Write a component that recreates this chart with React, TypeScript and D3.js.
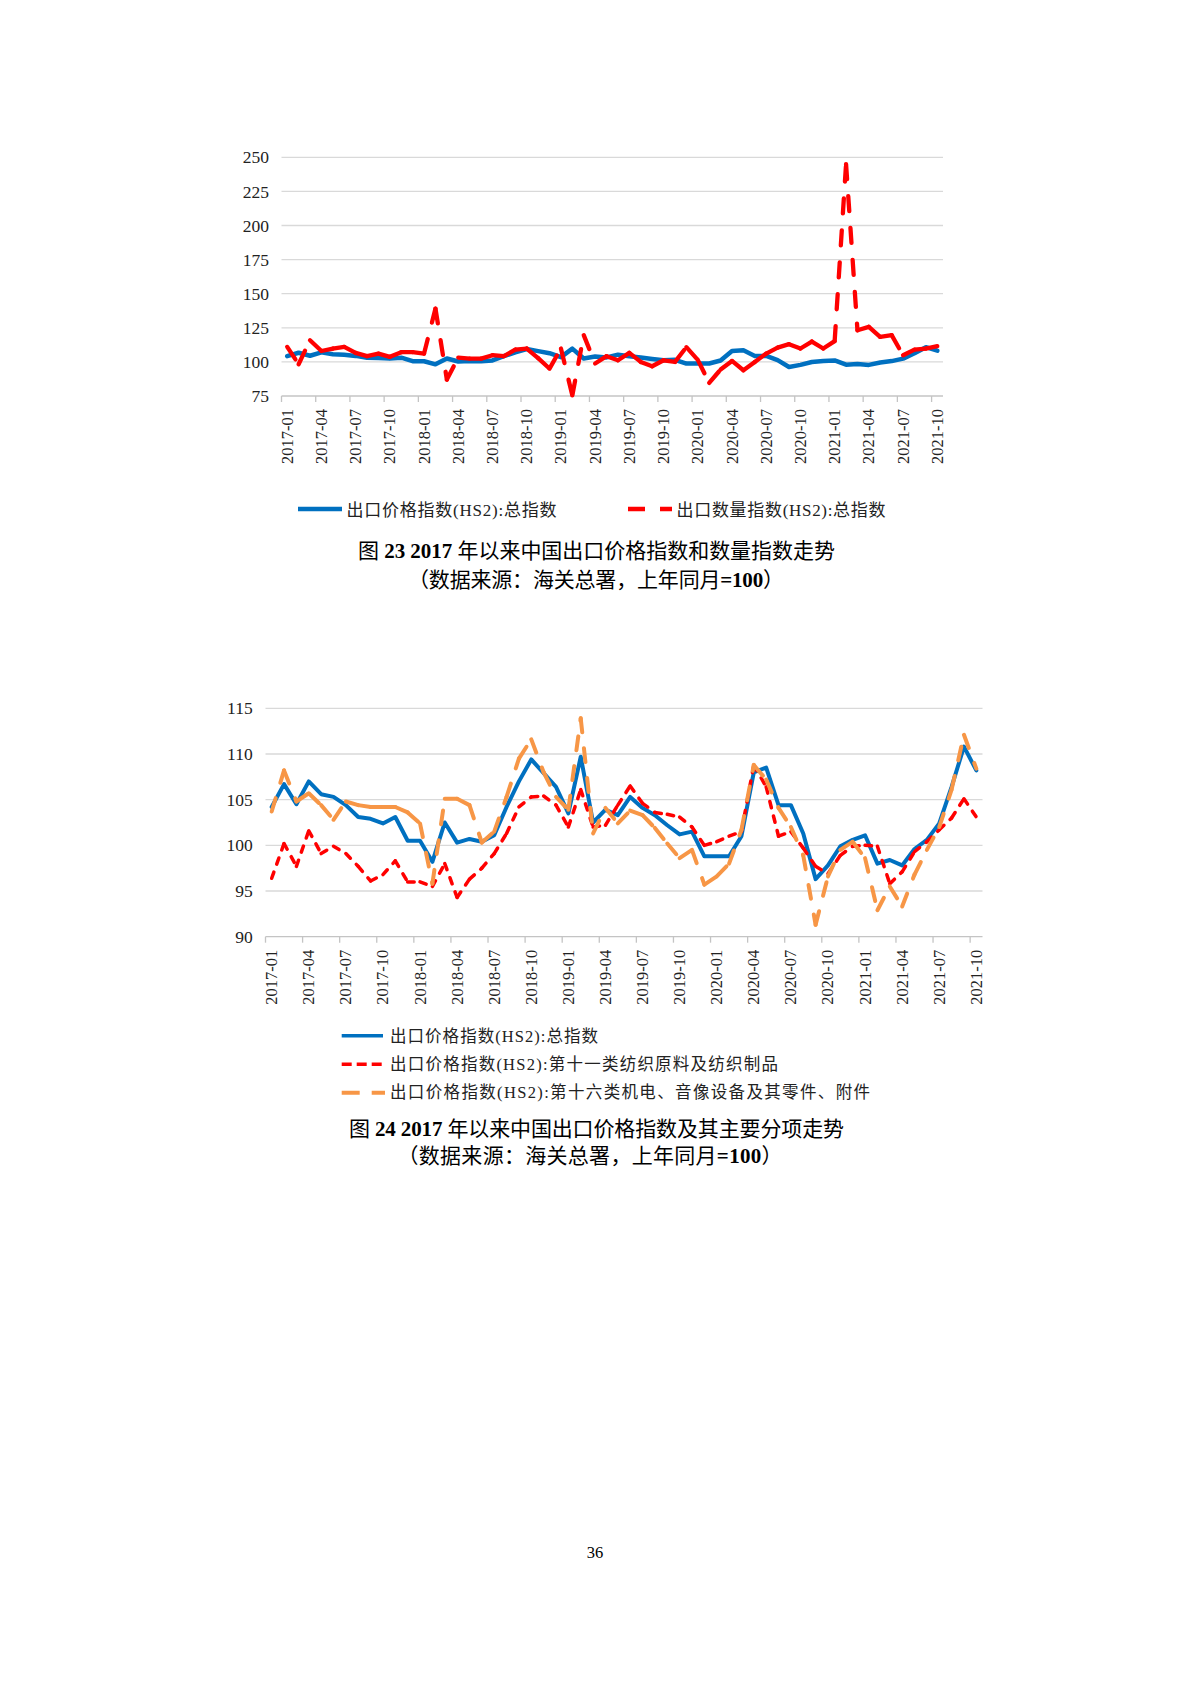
import React from "react";
import * as d3 from "d3";

const months = [
  "2017-01","2017-02","2017-03","2017-04","2017-05","2017-06","2017-07","2017-08","2017-09","2017-10","2017-11","2017-12",
  "2018-01","2018-02","2018-03","2018-04","2018-05","2018-06","2018-07","2018-08","2018-09","2018-10","2018-11","2018-12",
  "2019-01","2019-02","2019-03","2019-04","2019-05","2019-06","2019-07","2019-08","2019-09","2019-10","2019-11","2019-12",
  "2020-01","2020-02","2020-03","2020-04","2020-05","2020-06","2020-07","2020-08","2020-09","2020-10","2020-11","2020-12",
  "2021-01","2021-02","2021-03","2021-04","2021-05","2021-06","2021-07","2021-08","2021-09","2021-10",
];

// 出口价格指数(HS2):总指数
const priceTotal = [
  104.2, 106.7, 104.5, 107.0, 105.6, 105.3, 104.4, 103.1, 102.9, 102.4, 103.1, 100.5,
  100.5, 98.2, 102.5, 100.3, 100.7, 100.4, 101.1, 104.2, 107.0, 109.4, 107.9, 106.4,
  103.5, 109.7, 102.5, 103.9, 103.3, 105.3, 104.1, 103.3, 102.2, 101.2, 101.5, 98.8,
  98.8, 98.8, 101.0, 108.0, 108.5, 104.4, 104.4, 101.3, 96.3, 97.8, 99.9, 100.6,
  101.1, 98.0, 98.4, 97.8, 99.6, 100.6, 102.4, 106.4, 110.8, 108.2,
];

// 出口数量指数(HS2):总指数
const quantityTotal = [
  111.0, 98.3, 115.9, 108.0, 109.8, 111.0, 106.6, 104.2, 106.1, 103.7, 107.1, 107.1,
  106.1, 139.1, 87.0, 103.2, 102.4, 102.4, 104.9, 104.2, 109.0, 109.8, 102.8, 95.1,
  109.8, 75.5, 119.6, 98.8, 104.2, 101.2, 106.6, 100.0, 96.8, 101.2, 100.0, 110.8,
  101.5, 84.6, 94.4, 100.7, 93.9, 100.0, 106.1, 110.5, 113.0, 109.8, 114.9, 109.8,
  115.2, 245.0, 123.2, 125.7, 118.3, 119.6, 104.9, 109.0, 109.8, 111.5,
];

// 第十一类纺织原料及纺织制品
const priceTextile = [
  96.4, 100.2, 97.7, 101.6, 99.1, 99.9, 99.1, 97.7, 96.1, 96.8, 98.3, 96.0,
  96.0, 95.5, 98.0, 94.3, 96.3, 97.5, 99.1, 101.3, 104.2, 105.3, 105.4, 104.4,
  102.0, 106.1, 102.0, 102.2, 104.4, 106.5, 104.6, 103.6, 103.4, 103.1, 102.0, 100.0,
  100.4, 101.0, 101.5, 108.8, 106.4, 101.0, 101.5, 99.7, 97.7, 96.9, 98.9, 99.9,
  100.0, 99.9, 95.8, 97.1, 99.3, 100.4, 101.7, 103.0, 105.1, 103.1,
];

// 第十六类机电、音像设备及其零件、附件
const priceMech = [
  103.7, 108.2, 104.8, 105.7, 104.4, 102.8, 104.8, 104.4, 104.2, 104.2, 104.2, 103.6,
  102.4, 95.8, 105.1, 105.1, 104.4, 100.3, 101.5, 105.3, 109.5, 111.6, 108.0, 105.3,
  103.9, 113.9, 101.3, 104.1, 102.4, 103.8, 103.3, 101.9, 100.2, 98.6, 99.5, 95.7,
  96.6, 98.0, 101.7, 108.8, 107.2, 104.1, 102.0, 98.9, 91.3, 96.6, 99.5, 100.4,
  98.6, 92.9, 95.5, 93.3, 96.8, 99.5, 102.0, 106.1, 112.1, 108.4,
];

const yTicks1 = [75, 100, 125, 150, 175, 200, 225, 250];
const yTicks2 = [90, 95, 100, 105, 110, 115];

const legend1 = ["出口价格指数(HS2):总指数", "出口数量指数(HS2):总指数"];
const legend2 = [
  "出口价格指数(HS2):总指数",
  "出口价格指数(HS2):第十一类纺织原料及纺织制品",
  "出口价格指数(HS2):第十六类机电、音像设备及其零件、附件",
];

const SERIF = "'Liberation Serif', 'Times New Roman', 'Noto Sans CJK SC', serif";
const BLUE = "#0070C0";
const RED = "#FF0000";
const ORANGE = "#F79646";
const GRID = "#d9d9d9";
const AXIS = "#c4c4c4";
const TXT = "#222";

type Series = { values: number[]; color: string; width: number; dash?: string };

function Chart(props: {
  left: number; right: number; top: number; bottom: number;
  domain: [number, number]; ticks: number[]; labelX: number;
  tickFont: number; series: Series[];
}) {
  const { left, right, top, bottom, domain, ticks, labelX, tickFont, series } = props;
  const x = d3.scaleBand<string>().domain(months).range([left, right]).padding(0);
  const bw = x.bandwidth();
  const xc = (i: number) => (x(months[i]) as number) + bw / 2;
  const y = d3.scaleLinear().domain(domain).range([bottom, top]);
  const line = d3.line<[number, number]>().x((d) => d[0]).y((d) => d[1]);
  const tickIdx = months.map((_, i) => i).filter((i) => i % 3 === 0);

  return (
    <g>
      {ticks.map((t) => (
        <g key={t}>
          {t !== domain[0] && (
            <line x1={left} x2={right} y1={y(t)} y2={y(t)} stroke={GRID} strokeWidth={1.3} />
          )}
          <text x={labelX} y={y(t)} dy="0.35em" textAnchor="end" fontFamily={SERIF}
            fontSize={tickFont} fill={TXT}>{t}</text>
        </g>
      ))}
      <line x1={left} x2={right} y1={bottom} y2={bottom} stroke={AXIS} strokeWidth={1.3} />
      {tickIdx.map((i) => (
        <g key={i}>
          <line x1={x(months[i])} x2={x(months[i])} y1={bottom} y2={bottom + 6} stroke={AXIS} strokeWidth={1.3} />
          <text transform={`translate(${xc(i)},${bottom + 13}) rotate(-90)`} textAnchor="end"
            dominantBaseline="central" fontFamily={SERIF} fontSize={16.5} fill={TXT}>
            {months[i]}
          </text>
        </g>
      ))}
      {series.map((s, si) => {
        const pts = s.values.map((v, i) => [xc(i), y(v)] as [number, number]);
        if (!s.dash) {
          return (
            <path key={si} d={line(pts) || ""} fill="none" stroke={s.color} strokeWidth={s.width}
              strokeLinejoin="round" strokeLinecap="round" />
          );
        }
        return (
          <g key={si}>
            {d3.pairs(pts).map(([a, b], k) => (
              <path key={k} d={line([a, b]) || ""} fill="none" stroke={s.color} strokeWidth={s.width}
                strokeDasharray={s.dash} strokeLinecap="round" />
            ))}
          </g>
        );
      })}
    </g>
  );
}

function Title(props: { y: number; num: string; rest: string; len: number; cx?: number }) {
  return (
    <text x={props.cx ?? 596.5} y={props.y} textAnchor="middle" fontFamily={SERIF} fontSize={21}
      fill="#000" textLength={props.len} lengthAdjust="spacing">
      <tspan>图 </tspan>
      <tspan fontWeight="bold">{props.num}</tspan>
      <tspan>{props.rest}</tspan>
    </text>
  );
}

function Sub(props: { y: number; len: number; cx: number }) {
  return (
    <text x={props.cx} y={props.y} textAnchor="middle" fontFamily={SERIF} fontSize={21}
      fill="#000" textLength={props.len} lengthAdjust="spacing">
      <tspan>（数据来源：海关总署，上年同月</tspan>
      <tspan fontWeight="bold">=100</tspan>
      <tspan>）</tspan>
    </text>
  );
}

export default function App() {
  return (
    <svg width={1191} height={1684} viewBox="0 0 1191 1684"
      style={{ position: "absolute", left: 0, top: 0, background: "#fff" }}>
      <rect x={0} y={0} width={1191} height={1684} fill="#fff" />

      {/* Chart 23 */}
      <Chart left={281.5} right={943} top={157.3} bottom={396} domain={[75, 250]} ticks={yTicks1}
        labelX={269} tickFont={17.5}
        series={[
          { values: priceTotal, color: BLUE, width: 4.5 },
          { values: quantityTotal, color: RED, width: 4.3, dash: "15 17" },
        ]} />
      <line x1={298} x2={342} y1={509} y2={509} stroke={BLUE} strokeWidth={4.5} />
      <text x={346.5} y={516} fontFamily={SERIF} fontSize={17} fill={TXT} textLength={210}
        lengthAdjust="spacing">{legend1[0]}</text>
      <line x1={628} x2={672} y1={509} y2={509} stroke={RED} strokeWidth={4.5} strokeDasharray="17 15" />
      <text x={676.5} y={516} fontFamily={SERIF} fontSize={17} fill={TXT} textLength={209}
        lengthAdjust="spacing">{legend1[1]}</text>
      <Title y={558} num="23 2017" rest=" 年以来中国出口价格指数和数量指数走势" len={477} />
      <Sub y={587} len={376} cx={596} />

      {/* Chart 24 */}
      <Chart left={265.5} right={982.5} top={708.3} bottom={936.7} domain={[90, 115]} ticks={yTicks2}
        labelX={252.7} tickFont={17.5}
        series={[
          { values: priceTotal, color: BLUE, width: 4 },
          { values: priceTextile, color: RED, width: 3.5, dash: "6.5 8.5" },
          { values: priceMech, color: ORANGE, width: 4, dash: "14 16" },
        ]} />
      <line x1={341.7} x2={383} y1={1035.7} y2={1035.7} stroke={BLUE} strokeWidth={3.5} />
      <line x1={341.7} x2={383} y1={1064.3} y2={1064.3} stroke={RED} strokeWidth={3.5} strokeDasharray="10 5" />
      <line x1={341.7} x2={385} y1={1092.7} y2={1092.7} stroke={ORANGE} strokeWidth={4} strokeDasharray="18 12" />
      <text x={390} y={1041.7} fontFamily={SERIF} fontSize={16.5} fill={TXT} textLength={208}
        lengthAdjust="spacing">{legend2[0]}</text>
      <text x={390} y={1070} fontFamily={SERIF} fontSize={16.5} fill={TXT} textLength={388}
        lengthAdjust="spacing">{legend2[1]}</text>
      <text x={390} y={1098.3} fontFamily={SERIF} fontSize={16.5} fill={TXT} textLength={480}
        lengthAdjust="spacing">{legend2[2]}</text>
      <Title y={1136} num="24 2017" rest=" 年以来中国出口价格指数及其主要分项走势" len={495} />
      <Sub y={1163} len={385} cx={590} />

      <text x={595} y={1557.7} textAnchor="middle" fontFamily={SERIF} fontSize={16.5} fill="#000">36</text>
    </svg>
  );
}
